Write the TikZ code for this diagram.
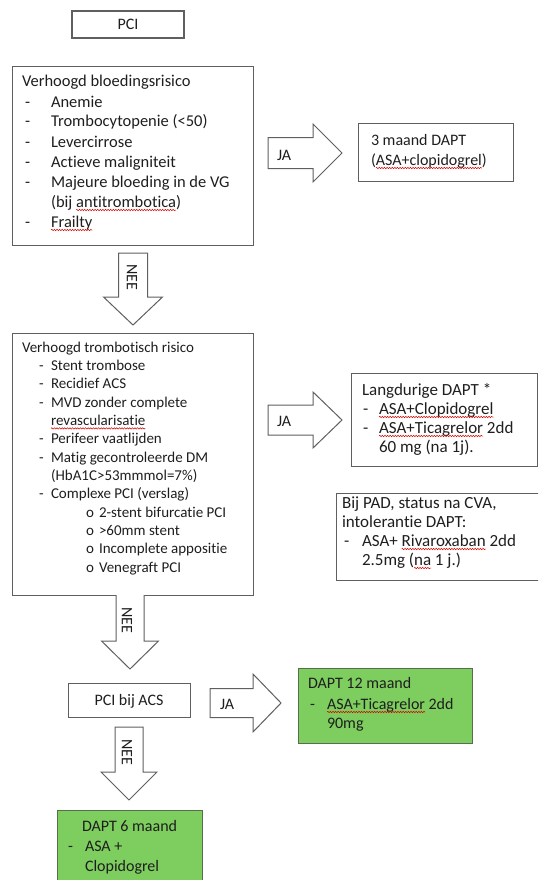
\documentclass[tikz,border=0pt]{standalone}
\usepackage{fontspec}
\setmainfont{Carlito}[Ligatures=CommonOff]
\usetikzlibrary{decorations.pathmorphing}
\definecolor{linegray}{RGB}{95,95,95}
\definecolor{txt}{RGB}{30,30,30}
\definecolor{dgreen}{RGB}{126,205,95}
\definecolor{gborder}{RGB}{85,110,75}
\begin{document}
\begin{tikzpicture}[x=1pt,y=-1pt,
  box/.style={draw=linegray, line width=1.3pt, inner sep=0pt, anchor=north west},
  gbox/.style={draw=gborder, fill=dgreen, line width=1.3pt, inner sep=0pt, anchor=north west},
  barrow/.style={draw=linegray, fill=white, line width=1pt, line join=miter},
  t/.style={inner sep=0pt, outer sep=0pt, anchor=base west, text=txt},
  fA/.style={font=\fontsize{16.5}{20}\selectfont},
  fB/.style={font=\fontsize{15}{18}\selectfont},
  fC/.style={font=\fontsize{17}{19}\selectfont},
  fD/.style={font=\fontsize{16}{19}\selectfont},
  sq/.style={draw=red!85!black, line width=0.5pt, decorate, decoration={snake, amplitude=0.7pt, segment length=2.6pt}}
]
\useasboundingbox (0,0) rectangle (538,880);
\clip (0,0) rectangle (538,880);

% ---------- boxes ----------
\node[box, minimum width=112pt, minimum height=27pt, anchor=center] (pci) at (128,24.5) {};
\node[t, fD, anchor=base] (pcit) at (128,30) {PCI};
\node[box, minimum width=241pt, minimum height=179pt] (b1) at (12,66) {};
\node[box, minimum width=155pt, minimum height=58pt] (b3m) at (358,123) {};
\node[box, minimum width=241pt, minimum height=262pt] (b2) at (12,333) {};
\node[box, minimum width=186pt, minimum height=93pt] (blang) at (351,373) {};
\node[box, minimum width=212pt, minimum height=87pt] (bpad) at (336,493) {};
\node[box, minimum width=122pt, minimum height=34pt] (bacs) at (68,683) {};
\node[t, fD, anchor=base] (bacst) at (129,705) {PCI bij ACS};
\node[gbox, minimum width=174pt, minimum height=75pt] (g12) at (298,668) {};
\node[gbox, minimum width=145pt, minimum height=90pt] (g6) at (57,810) {};

% ---------- block arrows ----------
% horizontal JA arrows
\draw[barrow] (268,137.5) -- (313,137.5) -- (313,124) -- (342,153) -- (313,182) -- (313,168.5) -- (268,168.5) -- cycle;
\node[t, fD] (ja1) at (277,160) {JA};
\draw[barrow] (268,405) -- (313,405) -- (313,392) -- (342,420) -- (313,448) -- (313,435) -- (268,435) -- cycle;
\node[t, fD] (ja2) at (277,426) {JA};
\draw[barrow] (210,688.5) -- (253,688.5) -- (253,674) -- (281,703) -- (253,732) -- (253,717.5) -- (210,717.5) -- cycle;
\node[t, fD] (ja3) at (220,709) {JA};
% vertical NEE arrows
\draw[barrow] (118.5,253) -- (118.5,297) -- (103.5,297) -- (133,325) -- (162.5,297) -- (147.5,297) -- (147.5,253) -- cycle;
\node[fD, inner sep=0pt, text=txt, rotate=-90] (nee1) at (132,277) {NEE};
\draw[barrow] (116,595) -- (116,641) -- (101.5,641) -- (130,669) -- (158.5,641) -- (144,641) -- (144,595);
\node[fD, inner sep=0pt, text=txt, rotate=-90] (nee2) at (127,620) {NEE};
\draw[barrow] (115,727) -- (115,772) -- (101,772) -- (129,800) -- (157,772) -- (143,772) -- (143,727) -- cycle;
\node[fD, inner sep=0pt, text=txt, rotate=-90] (nee3) at (127,752) {NEE};

% ---------- box 1 text ----------
\node[t,fA] (b1t) at (22,87) {Verhoogd bloedingsrisico};
\foreach \y/\n in {107/1,127/2,147/3,167/4,187/5,227/7}
  \node[t,fA] (b1d\n) at (25,\y) {-};
\node[t,fA] (b1i1) at (51,107) {Anemie};
\node[t,fA] (b1i2) at (51,127) {Trombocytopenie (<50)};
\node[t,fA] (b1i3) at (51,147) {Levercirrose};
\node[t,fA] (b1i4) at (51,167) {Actieve maligniteit};
\node[t,fA] (b1i5) at (51,187) {Majeure bloeding in de VG};
\node[t,fA] (b1i6a) at (51,207) {(bij};
\node[t,fA] (b1i6b) at ([xshift=3.7pt]b1i6a.base east) {antitrombotica};
\node[t,fA] (b1i6c) at (b1i6b.base east) {)};
\node[t,fA] (b1i7) at (51,227) {Frailty};
\draw[sq] ([yshift=-3pt]b1i6b.base west) -- ([yshift=-3pt]b1i6b.base east);
\draw[sq] ([yshift=-3pt]b1i7.base west) -- ([yshift=-3pt]b1i7.base east);

% ---------- 3 maand ----------
\node[t,fD] (m3a) at (371,145) {3 maand DAPT};
\node[t,fD] (m3b) at (371,165) {(};
\node[t,fD] (m3c) at (m3b.base east) {ASA+clopidogrel};
\node[t,fD] (m3d) at (m3c.base east) {)};
\draw[sq] ([yshift=-3pt]m3c.base west) -- ([yshift=-3pt]m3c.base east);

% ---------- box 2 text ----------
\node[t,fB] (b2t) at (22,352) {Verhoogd trombotisch risico};
\foreach \y/\n in {370.4/1,388.7/2,407/3,443.8/5,462.1/6,498.8/8}
  \node[t,fB] (b2d\n) at (39,\y) {-};
\node[t,fB] (b2i1) at (51,370.4) {Stent trombose};
\node[t,fB] (b2i2) at (51,388.7) {Recidief ACS};
\node[t,fB] (b2i3) at (51,407) {MVD zonder complete};
\node[t,fB] (b2i4) at (51,425.4) {revascularisatie};
\draw[sq] ([yshift=-3pt]b2i4.base west) -- ([yshift=-3pt]b2i4.base east);
\node[t,fB] (b2i5) at (51,443.8) {Perifeer vaatlijden};
\node[t,fB] (b2i6) at (51,462.1) {Matig gecontroleerde DM};
\node[t,fB] (b2i7) at (51,480.5) {(HbA1C>53mmmol=7\%)};
\node[t,fB] (b2i8) at (51,498.8) {Complexe PCI (verslag)};
\foreach \y/\n in {517.2/1,535.5/2,553.9/3,572.2/4}
  \node[t,fB] (b2o\n) at (86,\y) {o};
\node[t,fB] (b2s1) at (99,517.2) {2-stent bifurcatie PCI};
\node[t,fB] (b2s2) at (99,535.5) {>60mm stent};
\node[t,fB] (b2s3) at (99,553.9) {Incomplete appositie};
\node[t,fB] (b2s4) at (99,572.2) {Venegraft PCI};

% ---------- Langdurige DAPT ----------
\node[t,fC] (lt) at (362,395) {Langdurige DAPT *};
\node[t,fC] (ld1) at (363,414) {-};
\node[t,fC] (ld2) at (363,433) {-};
\node[t,fC] (li1) at (379,414) {ASA+Clopidogrel};
\node[t,fC] (li2a) at (379,433) {ASA+Ticagrelor};
\node[t,fC] (li2b) at ([xshift=3.8pt]li2a.base east) {2dd};
\node[t,fC] (li3) at (379,452) {60 mg (na 1j).};
\draw[sq] ([yshift=-3pt]li1.base west) -- ([yshift=-3pt]li1.base east);
\draw[sq] ([yshift=-3pt]li2a.base west) -- ([yshift=-3pt]li2a.base east);

% ---------- Bij PAD ----------
\node[t,fC] (p1) at (342,508) {Bij PAD, status na CVA,};
\node[t,fC] (p2) at (342,527) {intolerantie DAPT:};
\node[t,fC] (pd) at (344,546) {-};
\node[t,fC] (p3a) at (362,546) {ASA+};
\node[t,fC] (p3b) at ([xshift=3.8pt]p3a.base east) {Rivaroxaban};
\node[t,fC] (p3c) at ([xshift=3.8pt]p3b.base east) {2dd};
\node[t,fC] (p4a) at (362,565) {2.5mg (};
\node[t,fC] (p4b) at (p4a.base east) {na};
\node[t,fC] (p4c) at ([xshift=3.8pt]p4b.base east) {1 j.)};
\draw[sq] ([yshift=-3pt]p3b.base west) -- ([yshift=-3pt]p3b.base east);
\draw[sq] ([yshift=-3pt]p4b.base west) -- ([yshift=-3pt]p4b.base east);

% ---------- DAPT 12 maand ----------
\node[t,fD] (g12t) at (308,688) {DAPT 12 maand};
\node[t,fD] (g12d) at (310,709) {-};
\node[t,fD] (g12a) at (327,709) {ASA+Ticagrelor};
\node[t,fD] (g12b) at ([xshift=3.6pt]g12a.base east) {2dd};
\node[t,fD] (g12c) at (327,728) {90mg};
\draw[sq] ([yshift=-3pt]g12a.base west) -- ([yshift=-3pt]g12a.base east);

% ---------- DAPT 6 maand ----------
\node[t,fD] (g6t) at (82,831) {DAPT 6 maand};
\node[t,fD] (g6d) at (68,851) {-};
\node[t,fD] (g6a) at (85,851) {ASA +};
\node[t,fD] (g6b) at (85,871) {Clopidogrel};
\end{tikzpicture}
\end{document}
